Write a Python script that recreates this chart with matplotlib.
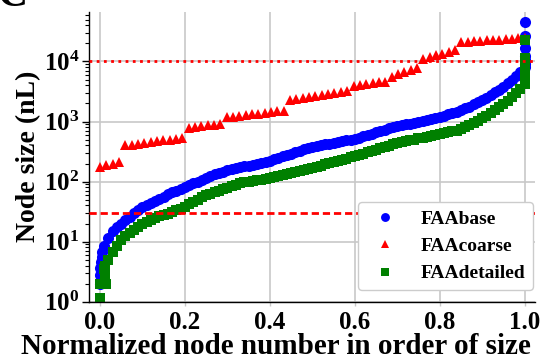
import numpy as np
import matplotlib
matplotlib.use('Agg')
import matplotlib.pyplot as plt
from matplotlib.ticker import FuncFormatter, NullFormatter, LogLocator

plt.rcParams['font.family'] = ['Liberation Serif', 'DejaVu Serif']
plt.rcParams['font.weight'] = 'bold'
plt.rcParams['mathtext.fontset'] = 'custom'
plt.rcParams['mathtext.rm'] = 'Liberation Serif:bold'
plt.rcParams['mathtext.bf'] = 'Liberation Serif:bold'

# node sizes (nL) at normalized node number 0.00, 0.01, ... 1.00
norm_pos = np.linspace(0, 1, 101)

base_size = [2.0, 8.5, 11.5, 15, 17.5, 20, 22.5, 26, 30, 34,
             37.5, 41, 44, 48, 52, 56, 61, 66, 71, 76,
             82, 87, 93, 100, 107, 114, 123, 132, 140, 147,
             153, 160, 168, 175, 180, 185, 190, 196, 204, 213,
             224, 236, 249, 263, 278, 293, 309, 327, 345, 364,
             380, 392, 404, 417, 430, 443, 457, 472, 486, 501,
             513, 540, 567, 597, 628, 661, 695, 731, 769, 809,
             837, 866, 896, 927, 959, 992, 1026, 1062, 1099, 1137,
             1176, 1245, 1312, 1384, 1459, 1549, 1660, 1778, 1928, 2089,
             2291, 2512, 2754, 3055, 3388, 3802, 4315, 4898, 5623, 6607,
             7943]
# extra nodes crowded at both ends of the curve
base_end_pos = [0.0, 0.0, 0.002, 0.004, 0.006, 1.0, 1.0, 1.0, 1.0, 1.0, 1.0]
base_end_size = [2.8, 3.6, 4.5, 5.5, 6.7, 9000, 10500, 12500, 16500, 27000, 45000]

detailed_size = [2.0, 3.5, 5.0, 6.6, 8.5, 10.5, 12.3, 14.1, 15.8, 17.8,
                 20, 21.4, 22.9, 24.5, 26.3, 27.5, 28.8, 30.9, 33.1, 35.5,
                 38, 41.7, 45.7, 50, 55, 59, 63, 66, 70, 74,
                 78.5, 83, 88, 93, 97, 99.5, 102, 105, 108, 112,
                 115, 119, 124, 129, 134, 140, 145, 151, 157, 163,
                 170, 177, 185, 194, 202, 211, 221, 231, 241, 252,
                 263, 277, 291, 307, 323, 340, 357, 377, 396, 417,
                 433, 450, 467, 484, 502, 522, 542, 562, 579, 598,
                 617, 638, 661, 684, 708, 741, 800, 863, 933, 1023,
                 1135, 1259, 1380, 1549, 1758, 1995, 2239, 2541, 2951, 3548,
                 4169]
detailed_end_pos = [0.0, 0.005, 0.01, 0.015, 0.012, 0.012, 0.012,
                    1.0, 1.0, 1.0, 1.0, 1.0, 1.0, 1.0]
detailed_end_size = [1.14, 2.0, 2.0, 2.0, 2.6, 3.1, 4.0,
                     5000, 6000, 7000, 8500, 10000, 11500, 23000]

# coarse mesh: fewer nodes, staircase of sizes
coarse_size = [178, 188, 198, 208,
               400, 412, 425, 440, 455, 470, 485, 500, 518, 535,
               790, 815, 840, 865, 890, 915,
               1180, 1210, 1245, 1280, 1315, 1350, 1390, 1430, 1470, 1510,
               2300, 2390, 2480, 2570, 2670, 2770, 2880, 2990, 3110, 3230,
               3900, 4050, 4200, 4350, 4500, 4640,
               5600, 6100, 6650, 7250, 7900,
               10900, 11700, 12600, 13500, 14500, 15600,
               20800, 21200, 21600, 22000, 22400, 22800, 23200, 23600, 24000, 24500, 25000]
coarse_pos = np.linspace(0, 1, len(coarse_size))

upper_limit = 1e4
lower_limit = 30

base_x = np.concatenate([norm_pos, base_end_pos])
base_y = np.concatenate([base_size, base_end_size])
det_x = np.concatenate([norm_pos, detailed_end_pos])
det_y = np.concatenate([detailed_size, detailed_end_size])

fig = plt.figure(figsize=(5.52, 3.6), dpi=100)
ax = fig.add_axes([0.161, 0.162, 0.808, 0.805])

ax.plot(base_x, base_y, 'o', color='#0000ff', ms=8, mew=0, label='FAAbase')
ax.plot(coarse_pos, coarse_size, '^', color='#ff0000', ms=7, mew=0, label='FAAcoarse')
ax.plot(det_x, det_y, 's', color='#008000', ms=7.5, mew=0, label='FAAdetailed')

ax.axhline(upper_limit, color='#ff0000', lw=2, ls=(0, (1, 1.6)), zorder=3)
ax.axhline(lower_limit, color='#ff0000', lw=2, ls=(0, (2.6, 1.4)), zorder=3)

ax.set_yscale('log')
ax.set_xlim(-0.026, 1.024)
ax.set_ylim(1, 6.7e4)
ax.set_xticks([0, 0.2, 0.4, 0.6, 0.8, 1.0])
ax.yaxis.set_major_locator(LogLocator(base=10, numticks=10))
ax.yaxis.set_major_formatter(FuncFormatter(lambda v, p: r'$\mathbf{10^{%d}}$' % round(np.log10(v))))
ax.yaxis.set_minor_formatter(NullFormatter())
ax.grid(True, which='major', color='#c8c8c8', lw=1.2)
ax.set_axisbelow(True)

for s in ['top', 'right']:
    ax.spines[s].set_visible(False)
for s in ['left', 'bottom']:
    ax.spines[s].set_color('black')
    ax.spines[s].set_linewidth(1.0)

ax.tick_params(axis='y', which='major', length=5, width=1, labelsize=18, pad=2)
ax.tick_params(axis='y', which='minor', length=3, width=0.8)
ax.tick_params(axis='x', which='major', length=3, width=1, color='#c8c8c8', labelsize=18, pad=4)

ax.set_xlabel('Normalized node number in order of size', fontsize=21, fontweight='bold')
ax.xaxis.set_label_coords(0.419, -0.108)
ax.xaxis.label.set_va('top')
ax.set_ylabel('Node size (nL)', fontsize=20, fontweight='bold', labelpad=2)

leg = ax.legend(loc='lower right', bbox_to_anchor=(0.9955, 0.04), borderaxespad=0,
                fontsize=14, numpoints=1, markerscale=0.8, framealpha=1, edgecolor='#cccccc')
leg.set_zorder(5)

fig.text(-0.004, 0.982, 'C', fontsize=30, fontweight='bold', va='baseline', ha='left')

fig.savefig('out.png', dpi=100)
